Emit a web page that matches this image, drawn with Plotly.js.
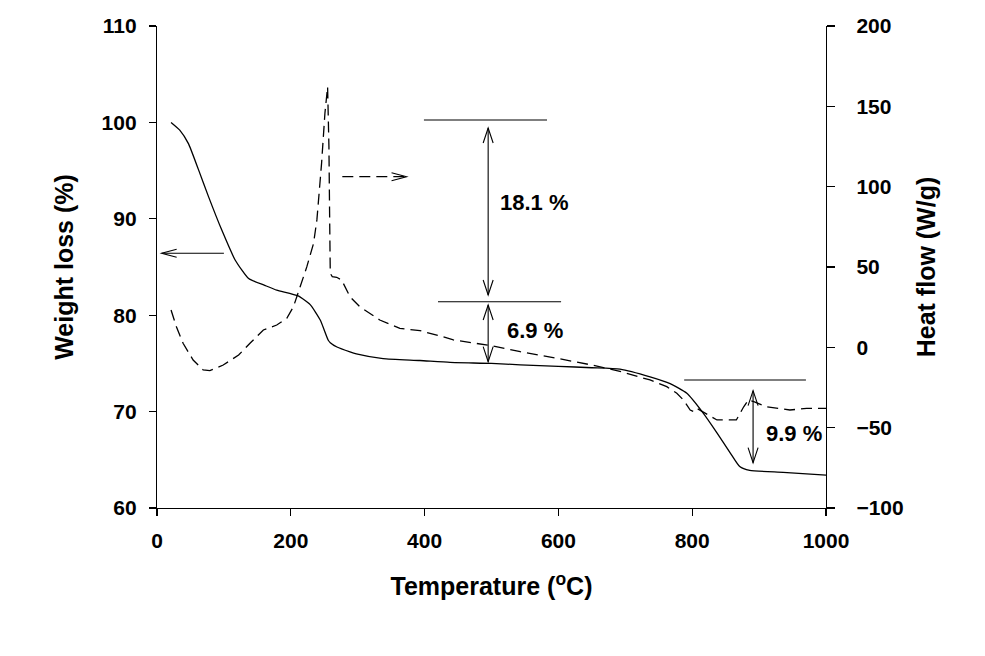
<!DOCTYPE html>
<html>
<head>
<meta charset="utf-8">
<script src="https://cdn.plot.ly/plotly-3.0.1.min.js"></script>
<style>html,body{margin:0;padding:0;background:#fff;}#chart{width:985px;height:656px;}</style>
</head>
<body>
<div id="chart"></div>
<script>
// Weight loss (TGA) curve, left axis
const weightT = [21, 34, 47, 62, 77, 97, 117, 137, 161, 179, 211, 229, 244, 256, 259, 269, 288.5, 298, 338, 393, 438, 500, 543, 600, 650, 692, 737, 767, 792, 817, 837, 857, 871, 886, 936, 1000];
const weight  = [100.0, 99.2, 97.8, 95.1, 92.3, 88.8, 85.7, 83.8, 83.1, 82.6, 82.0, 81.1, 79.5, 77.4, 77.15, 76.7, 76.2, 76.0, 75.5, 75.3, 75.1, 75.0, 74.85, 74.7, 74.55, 74.4, 73.6, 72.9, 71.9, 69.8, 67.8, 65.7, 64.3, 63.9, 63.7, 63.4];

// Heat flow (DSC) curve, right axis
const heatT = [21, 29, 39, 54, 69, 79, 99, 122, 139, 159, 179, 194, 204, 211, 224, 234, 239, 246, 251, 255, 257, 258, 259, 262, 268.6, 276, 288.5, 303, 333, 363, 393, 423, 443, 500, 543, 600, 650, 692, 737, 762, 777, 787, 797, 802, 807, 837, 866, 877, 884, 893, 911, 946, 971, 1000];
const heat  = [23.2, 12.8, 2.5, -7.9, -14.1, -14.5, -11, -4.8, 2.5, 10.8, 13.9, 18.1, 25.3, 33.6, 50.2, 64.7, 79.3, 114.5, 145.7, 162.2, 125, 83.4, 46, 44, 43.6, 41.9, 31.5, 25.3, 17, 11.8, 10.4, 7.1, 4.6, 1, -2.7, -7, -11, -15, -20.3, -24.5, -28.6, -32.8, -39, -40, -38, -45.2, -45.2, -37, -32.8, -34, -37, -39, -38, -38];

// Annotation labels
const stepLabels = ["18.1 %", "6.9 %", "9.9 %"];

const FONT = "Liberation Sans, Arial, sans-serif";

// arrow-head geometry helpers (data units)
const HX = 22.4, HY = 0.415;   // horizontal arrow head: length (°C), half-height (%)
const VY = 1.556, VX = 7.47;   // vertical arrow head: length (%), half-width (°C)
function headLeft(x, y){ return `M${x+HX},${y+HY} L${x},${y} L${x+HX},${y-HY}`; }
function headRight(x, y){ return `M${x-HX},${y+HY} L${x},${y} L${x-HX},${y-HY}`; }
function headUp(x, y){ return `M${x-VX},${y-VY} L${x},${y} L${x+VX},${y-VY}`; }
function headDown(x, y){ return `M${x-VX},${y+VY} L${x},${y} L${x+VX},${y+VY}`; }
function lineShape(x0,y0,x1,y1,dash){
  return {type:'line', xref:'x', yref:'y', x0:x0, y0:y0, x1:x1, y1:y1, line:{color:'#000', width:1.1, dash: dash||'solid'}};
}
function pathShape(p){
  return {type:'path', xref:'x', yref:'y', path:p, line:{color:'#000', width:1.1}};
}
function dblArrow(x, yTop, yBot){
  return [lineShape(x, yTop, x, yBot), pathShape(headUp(x, yTop)), pathShape(headDown(x, yBot))];
}

const shapes = [
  // left-pointing arrow (TGA -> left axis)
  lineShape(7, 86.42, 100, 86.42), pathShape(headLeft(7, 86.42)),
  // right-pointing dashed arrow (DSC -> right axis)
  lineShape(277, 94.37, 373, 94.37, '11px,6px'), pathShape(headRight(373, 94.37)),
  // step 1
  lineShape(399, 100.25, 583, 100.25),
  ...dblArrow(495, 99.42, 82.10),
  lineShape(420, 81.40, 604, 81.40),
  ...dblArrow(495, 81.06, 75.18),
  // step 3
  lineShape(788, 73.28, 970, 73.28),
  ...dblArrow(891, 72.17, 64.70)
];

const annFont = {family: FONT, size: 22, color: '#000', weight: 'bold'};
const annotations = [
  {x: 565, y: 91.74, text: stepLabels[0]},
  {x: 565, y: 78.46, text: stepLabels[1]},
  {x: 952, y: 67.68, text: stepLabels[2]}
].map(a => Object.assign({xref:'x', yref:'y', showarrow:false, font: annFont, xanchor:'center', yanchor:'middle'}, a));

const traces = [
  {x: weightT, y: weight, type: 'scatter', mode: 'lines', line: {color: '#000', width: 1.3, shape: 'spline', smoothing: 0.5}, yaxis: 'y', hoverinfo: 'skip'},
  {x: heatT, y: heat, type: 'scatter', mode: 'lines', line: {color: '#000', width: 1.3, dash: '11px,6px'}, yaxis: 'y2', hoverinfo: 'skip'}
];

const tickFont = {family: FONT, size: 21, color: '#000', weight: 'bold'};
const titleFont = {family: FONT, size: 25, color: '#000', weight: 'bold'};

const layout = {
  width: 985, height: 656,
  margin: {l: 157, r: 159, t: 26, b: 148},
  paper_bgcolor: '#fff', plot_bgcolor: '#fff',
  showlegend: false,
  font: {family: FONT, color: '#000'},
  xaxis: {
    range: [0, 1000], tickvals: [0, 200, 400, 600, 800, 1000],
    showgrid: false, zeroline: false, showline: true, linecolor: '#000', linewidth: 1.2,
    ticks: 'outside', ticklen: 7, tickwidth: 1.2, tickcolor: '#000',
    tickfont: tickFont, ticklabelstandoff: 7,
    title: {text: 'Temperature (<sup>o</sup>C)', font: titleFont, standoff: 26}
  },
  yaxis: {
    range: [60, 110], dtick: 10, tick0: 60,
    showgrid: false, zeroline: false, showline: true, linecolor: '#000', linewidth: 1.2,
    ticks: 'outside', ticklen: 7, tickwidth: 1.2, tickcolor: '#000',
    tickfont: tickFont, ticklabelstandoff: 8,
    title: {text: 'Weight loss (%)', font: titleFont, standoff: 20}
  },
  yaxis2: {
    range: [-100, 200], dtick: 50, tick0: -100,
    overlaying: 'y', side: 'right', anchor: 'x',
    showgrid: false, zeroline: false, showline: true, linecolor: '#000', linewidth: 1.2,
    ticks: 'outside', ticklen: 8, tickwidth: 1.2, tickcolor: '#000',
    tickfont: tickFont, ticklabelstandoff: 17,
    title: {text: 'Heat flow (W/g)', font: titleFont, standoff: 14}
  },
  shapes: shapes,
  annotations: annotations
};

Plotly.newPlot('chart', traces, layout, {staticPlot: true, displayModeBar: false});
</script>
</body>
</html>
